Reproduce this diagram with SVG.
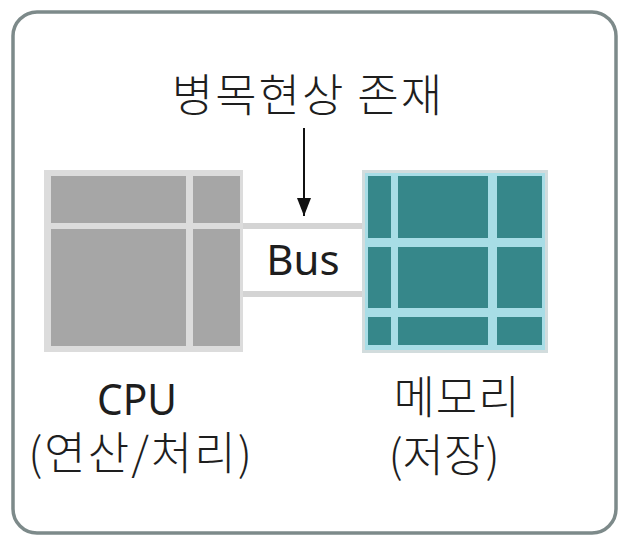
<svg xmlns="http://www.w3.org/2000/svg" width="621" height="546" viewBox="0 0 621 546">
<style>
.ko{font-family:"Noto Sans CJK KR","Noto Sans",sans-serif;font-size:45px;font-weight:300;fill:#1e1e1e;text-anchor:middle}
.la{font-family:"Noto Sans","Noto Sans CJK KR",sans-serif;fill:#1e1e1e;text-anchor:middle}
.cpu{fill:#a6a6a6}
.mem{fill:#36878a}
.bus{fill:#d4d4d4}
</style>
<defs>
<marker id="ah" markerWidth="18" markerHeight="14" refX="18" refY="7" orient="auto" markerUnits="userSpaceOnUse" viewBox="0 0 18 14">
<polygon points="0,0 18,7 0,14" fill="#111"/>
</marker>
</defs>
<rect x="0" y="0" width="621" height="546" fill="#ffffff"/>
<rect id="frame" x="13" y="12" width="603" height="521" rx="24" ry="24" fill="#ffffff" stroke="#7d8a8a" stroke-width="3.5"/>
<g id="title"><text class="ko" x="308" y="112" letter-spacing="2">병목현상 존재</text></g>
<g id="connectors">
<line x1="304" y1="128" x2="304" y2="216" stroke="#111" stroke-width="2" marker-end="url(#ah)"/>
</g>
<g id="bus">
<rect class="bus" x="243" y="223" width="119" height="6"/>
<rect class="bus" x="243" y="291" width="119" height="6"/>
<text class="la" x="303" y="275" font-size="42">Bus</text>
</g>
<g id="cpu">
<rect x="44" y="170" width="199" height="182" fill="#dcdcdc"/>
<rect class="cpu" x="51" y="176" width="135" height="47"/>
<rect class="cpu" x="193" y="176" width="47" height="47"/>
<rect class="cpu" x="51" y="229" width="135" height="117"/>
<rect class="cpu" x="193" y="229" width="47" height="117"/>
<text class="la" x="137" y="415" font-size="44" textLength="80" lengthAdjust="spacingAndGlyphs">CPU</text>
<text class="ko" x="141" y="470" letter-spacing="2">(연산/처리)</text>
</g>
<g id="memory">
<rect x="362" y="170" width="186" height="183" fill="#d2dcdd"/>
<rect x="365" y="173" width="180" height="177" fill="#a8dde6"/>
<rect class="mem" x="368" y="176" width="23" height="62"/>
<rect class="mem" x="398" y="176" width="90" height="62"/>
<rect class="mem" x="497" y="176" width="45" height="62"/>
<rect class="mem" x="368" y="247" width="23" height="61"/>
<rect class="mem" x="398" y="247" width="90" height="61"/>
<rect class="mem" x="497" y="247" width="45" height="61"/>
<rect class="mem" x="368" y="317" width="23" height="28"/>
<rect class="mem" x="398" y="317" width="90" height="28"/>
<rect class="mem" x="497" y="317" width="45" height="28"/>
<text class="ko" x="457" y="414" letter-spacing="1">메모리</text>
<text class="ko" x="444" y="472">(저장)</text>
</g>
</svg>
